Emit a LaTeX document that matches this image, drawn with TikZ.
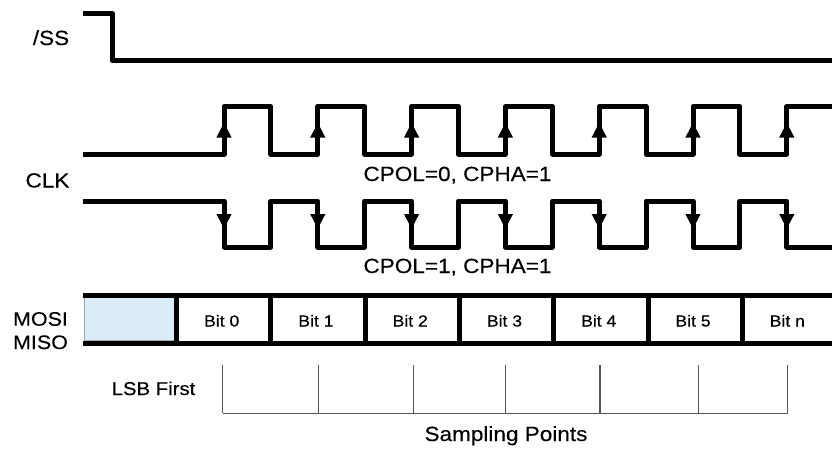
\documentclass[tikz,border=0pt]{standalone}
\usepackage{fontspec}
\setmainfont{Liberation Sans}[FakeStretch=1.1,FakeBold=0.3]
\usetikzlibrary{arrows.meta}
\definecolor{busfill}{RGB}{217,236,247}
\definecolor{samplegray}{RGB}{85,85,85}
\tikzset{
  sig/.style={line width=5pt,line join=round},
  edgetip/.style={line width=5pt,-{Triangle[width=14pt,length=15pt]}},
  lbl/.style={anchor=base,inner sep=0pt,font=\fontsize{20.5}{24}\selectfont},
  bitlbl/.style={anchor=base,inner sep=0pt,font=\fontsize{16}{19}\selectfont},
}
\begin{document}
\begin{tikzpicture}[x=1pt,y=-1pt]
  \useasboundingbox (0,0) rectangle (832,448);

  % /SS
  \draw[sig] (83,13.5)--(112.5,13.5)--(112.5,60.5)--(832,60.5);
  \node[lbl] (ss) at (51,45) {/SS};

  % CLK, CPOL=0
  \draw[sig] (83,154)
    foreach \k in {0,...,5}{
      --({224+93.8*\k},154)--({224+93.8*\k},106.5)
      --({270.9+93.8*\k},106.5)--({270.9+93.8*\k},154)}
    --(786.8,154)--(786.8,106.5)--(832,106.5);
  \foreach \k in {0,...,6}
    \draw[edgetip] ({224+93.8*\k},150)--({224+93.8*\k},122.5);

  % CLK, CPOL=1
  \draw[sig] (83,201)
    foreach \k in {0,...,5}{
      --({224+93.8*\k},201)--({224+93.8*\k},247)
      --({270.9+93.8*\k},247)--({270.9+93.8*\k},201)}
    --(786.8,201)--(786.8,247)--(832,247);
  \foreach \k in {0,...,6}
    \draw[edgetip] ({224+93.8*\k},205)--({224+93.8*\k},229);

  \node[lbl] (clk) at (47.5,187.5) {CLK};
  \node[lbl] (cpolzero) at (457.5,181) {CPOL=0, CPHA=1};
  \node[lbl] (cpolone) at (457.5,273) {CPOL=1, CPHA=1};

  % MOSI / MISO
  \fill[busfill,draw=black!35,line width=0.8pt] (84,297.5) rectangle (175,340.5);
  \draw[sig] (83,295)--(832,295);
  \draw[sig] (83,343)--(832,343);
  \foreach \k/\t in {0/Bit 0,1/Bit 1,2/Bit 2,3/Bit 3,4/Bit 4,5/Bit 5,6/Bit n}{
    \draw[line width=5pt] ({176.7+94.27*\k},295)--({176.7+94.27*\k},343);
    \node[bitlbl] (bit\k) at ({176.7+94.27*\k+45},326.5) {\t};
  }
  \node[lbl,font=\fontsize{19.5}{23}\selectfont] (mosi) at (40.5,325.7) {MOSI};
  \node[lbl,font=\fontsize{19.5}{23}\selectfont] (miso) at (40.5,349) {MISO};

  % Sampling points
  \foreach \x in {222.7,318.3,413.3,505.7,600,698.3,787.7}
    \draw[samplegray,line width=1.2pt] (\x,365)--(\x,413.3);
  \draw[samplegray,line width=1.2pt] (222.7,413.3)--(787.7,413.3);
  \node[lbl,font=\fontsize{18.5}{22}\selectfont] (lsb) at (153.5,395) {LSB First};
  \node[lbl] (sampling) at (506,441) {Sampling Points};
\end{tikzpicture}
\end{document}
